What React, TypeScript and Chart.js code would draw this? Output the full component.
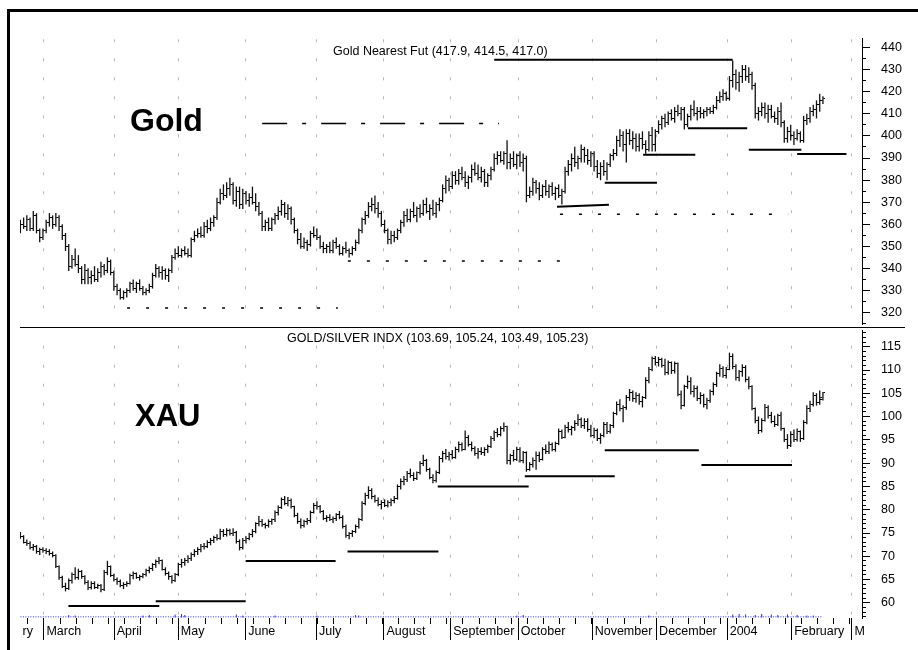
import React, { useEffect, useRef } from 'react';
import { Chart, registerables } from 'chart.js';
Chart.register(...registerables);

const FONT = '"Liberation Sans", Arial, Helvetica, sans-serif';

// ---------- Gold Nearest Futures (daily OHLC, trading-day index 0..249) ----------
const goldOpen = [
  359,360,359,362,358,364,357,354,357,361, 363,360,363,359,355,350,341,344,342,340,
  335,339,336,337,335,338,341,339,343,338, 332,330,327,329,330,333,331,333,331,329,
  330,332,337,340,338,339,337,339,345,347, 346,348,347,346,353,355,356,355,359,358,
  361,363,370,374,373,376,378,371,375,369, 374,371,372,370,368,365,359,361,358,362,
  364,366,369,365,367,362,357,353,350,352, 351,356,355,354,350,349,350,348,352,350,
  347,349,348,347,349,352,357,362,364,368, 369,367,365,360,357,353,355,354,357,361,
  364,362,366,364,367,365,369,366,367,365, 369,371,376,380,377,382,380,383,381,379,
  381,385,383,381,384,379,382,385,390,391, 389,392,388,390,387,391,388,390,373,375,
  379,376,373,377,375,377,374,376,373,375, 384,387,390,388,390,394,391,389,392,386,
  383,386,384,387,391,392,398,400,396,401, 398,399,395,399,396,394,400,396,402,405,
  408,406,410,408,411,410,412,405,409,412, 410,411,410,411,412,411,413,416,418,419,
  417,425,428,424,427,430,427,428,423,410, 411,413,410,412,409,408,411,406,399,402,
  400,399,401,398,407,408,411,412,414,416,
];
const goldHigh = [
  362,363,364,363,366,365,358,358,362,365, 364,365,364,360,356,351,346,349,346,341,
  342,340,339,341,340,343,342,345,344,339, 333,331,330,331,334,335,334,335,332,331,
  333,338,342,341,341,340,340,346,349,350, 349,350,349,354,357,358,359,361,362,363,
  364,372,376,378,379,381,379,377,377,376, 375,374,377,374,370,366,362,363,363,365,
  368,371,370,369,368,363,358,356,354,353, 357,359,358,355,352,351,352,353,354,351,
  350,352,349,350,353,358,363,366,370,372, 373,370,366,362,358,357,357,358,362,366,
  367,367,370,368,369,371,372,369,371,370, 372,378,382,381,384,384,385,386,384,382,
  387,388,387,386,385,383,386,392,393,393, 393,398,392,393,392,393,392,391,377,381,
  380,379,378,380,378,379,377,378,376,386, 389,392,395,391,396,395,394,393,393,389,
  388,389,388,392,394,400,403,402,403,403, 402,401,401,402,398,402,404,403,407,409,
  410,411,412,413,414,413,413,410,414,416, 413,413,412,413,413,414,418,420,421,420,
  427,434,430,429,432,432,431,429,424,413, 415,415,414,414,411,413,415,407,404,405,
  402,403,402,409,410,413,414,416,419,417.9,
];
const goldLow = [
  356,358,357,357,357,356,352,353,356,359, 358,359,357,353,348,339,340,341,338,333,
  333,333,333,334,334,336,337,338,337,330, 328,326,326,327,329,330,329,330,328,328,
  329,331,336,336,335,335,334,338,344,345, 345,346,345,345,352,354,354,354,356,357,
  359,362,369,371,372,373,369,368,367,367, 369,368,369,366,364,357,357,357,357,360,
  362,364,363,362,360,356,351,349,349,348, 350,354,353,349,347,347,347,347,349,346,
  346,347,345,346,348,351,356,360,363,366, 365,363,359,356,351,351,352,353,356,359,
  361,361,363,361,363,364,365,362,364,363, 366,370,374,375,376,378,378,380,377,376,
  379,382,380,379,377,377,380,384,387,388, 387,385,385,386,385,386,384,370,372,373,
  374,371,372,373,372,373,371,372,369,374, 382,384,386,385,388,388,387,386,384,381,
  380,382,380,386,389,391,395,393,388,396, 394,393,393,394,392,393,393,393,401,403,
  404,405,407,406,409,407,403,404,407,409, 407,408,408,409,410,410,412,415,416,416,
  416,422,421,420,424,425,424,421,408,407, 409,408,406,408,406,405,404,397,397,398,
  396,398,397,397,405,406,409,408,411,414.5,
];
const goldClose = [
  360,359,362,358,364,357,354,357,361,363, 360,363,359,355,350,341,344,342,340,335,
  339,336,337,335,338,341,339,343,338,332, 330,327,329,330,333,331,333,331,329,330,
  332,337,340,338,339,337,339,345,347,346, 348,347,346,353,355,356,355,359,358,361,
  363,370,374,373,376,378,371,375,369,374, 371,372,370,368,365,359,361,358,362,364,
  366,369,365,367,362,357,353,350,352,351, 356,355,354,350,349,350,348,352,350,347,
  349,348,347,349,352,357,362,364,368,369, 367,365,360,357,353,355,354,357,361,364,
  362,366,364,367,365,369,366,367,365,369, 371,376,380,377,382,380,383,381,379,381,
  385,383,381,384,379,382,385,390,391,389, 392,388,390,387,391,388,390,373,375,379,
  376,373,377,375,377,374,376,373,375,384, 387,390,388,390,394,391,389,392,386,383,
  386,384,387,391,392,398,400,396,401,398, 399,395,399,396,394,400,396,402,405,408,
  406,410,408,411,410,412,405,409,412,410, 411,410,411,412,411,413,416,418,419,417,
  425,428,424,427,430,427,428,423,410,411, 413,410,412,409,408,411,406,399,402,400,
  399,401,398,407,408,411,412,414,416,417,
];

// ---------- XAU Gold/Silver index (daily OHLC) ----------
const xauOpen = [
  74.8,74.2,73.0,72.8,71.8,72.2,71.0,71.4,71.2,71.0, 70.6,70.2,67.8,65.4,63.6,63.0,64.8,66.0,65.5,66.8,
  65.6,64.3,63.2,64.2,63.4,63.8,62.8,66.6,67.8,65.9, 65.0,64.6,63.8,64.0,64.2,65.8,66.2,65.5,65.7,66.0,
  67.0,67.4,68.2,68.8,69.0,67.2,66.2,65.6,64.8,66.0, 68.2,68.7,69.2,69.6,70.4,71.0,71.5,72.2,72.0,73.0,
  73.5,74.0,73.8,75.4,74.6,75.6,74.8,75.2,73.2,71.8, 73.4,73.9,74.6,75.3,77.0,77.5,76.8,76.6,77.4,77.8,
  79.4,80.4,82.2,81.4,82.0,80.6,78.8,77.4,76.6,77.4, 77.6,79.5,80.9,80.6,79.6,78.2,78.4,77.9,78.2,78.9,
  78.4,76.4,74.4,74.8,75.3,76.4,77.8,81.4,83.0,84.2, 82.8,82.0,81.2,81.6,80.9,81.5,82.0,82.5,85.0,86.0,
  86.6,87.8,87.4,86.8,87.9,90.0,90.6,88.6,87.0,86.2, 88.0,91.0,92.0,91.4,91.9,91.3,93.0,94.0,93.0,95.6,
  94.0,93.2,92.0,92.6,92.2,93.0,93.6,95.4,96.6,96.2, 97.5,97.8,90.6,91.6,90.8,93.0,90.6,92.2,88.6,89.8,
  90.6,91.6,90.8,93.0,92.4,94.0,93.0,94.2,96.8,95.6, 97.6,97.2,97.6,98.6,99.4,98.0,99.0,97.2,96.0,97.1,
  95.2,95.9,98.2,96.8,98.0,100.6,102.6,101.8,101.9,104.0, 105.2,103.8,104.6,103.2,104.0,107.8,110.2,112.4,111.6,112.3,
  111.0,109.4,111.6,109.8,111.4,104.8,102.4,106.4,107.6,105.4, 106.0,103.8,104.6,102.6,103.4,105.4,106.8,109.2,110.4,108.9,
  110.2,113.0,110.8,108.4,109.6,110.6,108.0,106.4,101.8,99.2, 97.0,99.2,102.0,100.2,99.0,98.4,100.2,97.4,95.0,93.8,
  96.2,95.0,96.8,95.2,98.8,101.8,102.6,104.6,103.0,103.69,
];
const xauHigh = [
  75.2,74.5,73.6,73.2,72.6,72.4,71.8,71.9,71.7,71.5, 71.0,70.4,68.0,65.8,64.3,65.2,66.5,67.6,67.3,67.0,
  65.9,64.8,64.6,64.6,64.1,64.0,67.0,69.0,68.0,66.2, 65.4,65.0,64.4,64.6,66.2,66.7,66.5,66.0,66.4,67.3,
  67.8,68.5,69.3,69.8,69.3,67.6,66.7,65.9,66.4,68.6, 69.4,69.6,70.2,70.8,71.5,71.9,72.6,72.8,73.4,73.9,
  74.4,74.7,75.9,75.8,76.0,75.9,76.0,75.4,73.6,73.9, 74.3,75.0,75.8,77.3,78.6,78.0,77.2,77.9,78.1,79.8,
  80.9,82.6,82.9,82.7,82.4,80.8,79.3,78.1,77.8,78.2, 79.8,81.4,81.8,81.0,79.9,78.8,79.0,78.5,79.2,79.7,
  78.8,76.8,75.2,75.6,76.8,78.2,81.8,83.6,85.0,84.6, 83.2,82.6,82.0,82.2,82.0,82.4,82.9,85.4,86.7,87.2,
  88.3,88.8,88.0,88.2,90.4,91.8,90.9,89.0,87.6,88.4, 91.5,92.6,93.0,92.4,92.8,93.5,94.6,94.4,97.0,96.0,
  94.6,93.6,93.2,93.4,93.4,94.0,95.8,97.0,97.5,97.9, 98.7,98.0,92.0,92.8,93.5,93.4,92.6,92.5,90.2,91.2,
  92.5,92.4,93.4,94.0,94.6,94.4,94.6,97.4,97.2,98.2, 98.8,98.0,99.2,100.5,99.8,99.6,99.6,98.2,97.6,97.4,
  96.4,98.8,98.8,98.4,101.0,103.2,103.7,102.4,104.6,105.9, 105.6,105.2,105.0,104.4,108.4,110.6,112.9,113.0,112.8,112.6,
  112.4,112.0,111.8,111.8,111.6,105.6,106.8,108.8,108.4,106.7, 106.6,105.2,104.9,104.0,105.8,107.3,109.6,111.2,110.8,110.6,
  113.7,113.5,111.2,110.0,111.2,111.0,108.6,106.7,101.9,100.0, 99.6,102.7,102.4,101.0,100.2,100.6,101.0,97.6,96.2,96.8,
  97.2,97.4,97.0,99.2,102.4,103.4,105.2,105.0,105.6,105.24,
];
const xauLow = [
  73.8,72.8,72.3,71.5,71.2,70.6,70.3,70.8,70.5,70.2, 69.8,67.5,65.0,63.2,62.5,62.8,64.2,65.0,65.0,65.2,
  64.0,62.8,62.9,63.0,63.0,62.3,62.6,66.0,65.6,64.6, 63.9,63.4,63.0,63.5,64.0,65.1,65.2,64.8,65.3,65.7,
  66.4,66.9,67.6,68.3,67.0,65.9,65.0,64.2,64.5,65.8, 67.6,68.0,68.6,69.0,69.9,70.3,70.9,71.5,71.8,72.4,
  72.9,73.4,73.6,74.2,74.3,74.5,74.4,72.8,71.3,71.5, 72.8,73.5,74.1,75.0,76.5,76.4,76.0,76.2,76.8,77.4,
  78.8,80.2,81.0,80.8,80.3,78.4,77.0,76.0,76.2,76.8, 77.2,79.2,80.1,79.3,77.8,77.4,77.6,77.2,77.6,78.0,
  76.0,74.0,73.7,74.2,75.0,76.0,77.6,81.0,82.4,82.3, 81.6,80.8,80.1,80.6,80.5,80.8,81.4,82.2,84.4,85.3,
  86.0,86.9,86.2,86.4,87.6,89.4,88.2,86.6,85.7,85.9, 87.7,90.2,90.8,90.6,90.9,91.0,92.4,92.6,92.8,93.6,
  92.6,91.6,91.0,91.8,91.6,92.2,93.3,94.8,95.6,95.8, 96.8,89.8,89.7,90.4,90.5,90.2,90.0,88.2,88.4,89.1,
  88.6,90.3,90.6,92.0,92.0,92.6,92.5,93.9,95.2,95.4, 96.6,96.0,97.0,98.0,97.6,97.4,96.8,95.6,95.4,94.8,
  94.2,95.6,96.3,96.4,97.6,100.3,101.2,98.8,101.5,103.4, 103.2,103.0,102.6,102.0,103.8,107.2,109.8,111.0,110.8,110.6,
  108.9,109.0,109.2,109.3,104.4,101.6,102.2,106.0,104.8,104.2, 103.4,102.7,102.0,101.6,103.0,104.6,106.4,108.6,108.4,108.2,
  110.0,110.2,107.8,107.6,108.6,107.4,105.9,101.4,98.6,96.3, 96.6,99.0,99.6,98.6,97.8,98.0,97.0,94.6,93.1,93.5,
  94.6,94.7,94.6,95.0,98.4,101.0,102.2,102.4,102.6,103.49,
];
const xauClose = [
  74.2,73.0,72.8,71.8,72.2,71.0,71.4,71.2,71.0,70.6, 70.2,67.8,65.4,63.6,63.0,64.8,66.0,65.5,66.8,65.6,
  64.3,63.2,64.2,63.4,63.8,62.8,66.6,67.8,65.9,65.0, 64.6,63.8,64.0,64.2,65.8,66.2,65.5,65.7,66.0,67.0,
  67.4,68.2,68.8,69.0,67.2,66.2,65.6,64.8,66.0,68.2, 68.7,69.2,69.6,70.4,71.0,71.5,72.2,72.0,73.0,73.5,
  74.0,73.8,75.4,74.6,75.6,74.8,75.2,73.2,71.8,73.4, 73.9,74.6,75.3,77.0,77.5,76.8,76.6,77.4,77.8,79.4,
  80.4,82.2,81.4,82.0,80.6,78.8,77.4,76.6,77.4,77.6, 79.5,80.9,80.6,79.6,78.2,78.4,77.9,78.2,78.9,78.4,
  76.4,74.4,74.8,75.3,76.4,77.8,81.4,83.0,84.2,82.8, 82.0,81.2,81.6,80.9,81.5,82.0,82.5,85.0,86.0,86.6,
  87.8,87.4,86.8,87.9,90.0,90.6,88.6,87.0,86.2,88.0, 91.0,92.0,91.4,91.9,91.3,93.0,94.0,93.0,95.6,94.0,
  93.2,92.0,92.6,92.2,93.0,93.6,95.4,96.6,96.2,97.5, 97.8,90.6,91.6,90.8,93.0,90.6,92.2,88.6,89.8,90.6,
  91.6,90.8,93.0,92.4,94.0,93.0,94.2,96.8,95.6,97.6, 97.2,97.6,98.6,99.4,98.0,99.0,97.2,96.0,97.1,95.2,
  95.9,98.2,96.8,98.0,100.6,102.6,101.8,101.9,104.0,105.2, 103.8,104.6,103.2,104.0,107.8,110.2,112.4,111.6,112.3,111.0,
  109.4,111.6,109.8,111.4,104.8,102.4,106.4,107.6,105.4,106.0, 103.8,104.6,102.6,103.4,105.4,106.8,109.2,110.4,108.9,110.2,
  113.0,110.8,108.4,109.6,110.6,108.0,106.4,101.8,99.2,97.0, 99.2,102.0,100.2,99.0,98.4,100.2,97.4,95.0,93.8,96.2,
  95.0,96.8,95.2,98.8,101.8,102.6,104.6,103.0,104.2,105.23,
];

// small volume-like marks along the bottom of the XAU panel
const volumeLevel = 57.0;
const volumeSpikeIdx = [15,17,38,40,48,50,51,67,69,79,92,104,105,154,156,195,221,223,225,228,230,233,235,238,241,244,246];
const volumeSpikeSize = [0.4,0.3,0.3,0.4,0.5,0.6,0.4,0.5,0.3,0.3,0.3,0.4,0.3,0.3,0.4,0.3,0.5,0.6,0.5,0.4,0.6,0.5,0.4,0.5,0.4,0.3,0.3];

// trend / support lines: [x1, y1, x2, y2] in (trading-day index, price)
const goldSolidLines = [
  [147, 434.5, 221, 434.5],
  [166.5, 368.0, 182.6, 368.8],
  [181.3, 378.8, 197.5, 378.8],
  [193.2, 391.5, 209.4, 391.5],
  [207.1, 403.5, 225.5, 403.5],
  [226, 393.7, 242.3, 393.7],
  [241, 391.8, 256.3, 391.8],
];
const goldDashedLines = [
  [33.1, 322.1, 98.5, 322.1],
  [101.6, 343.4, 167.4, 343.4],
  [167.4, 364.6, 238.2, 364.6],
];
const goldDashDotLine = [75, 405.6, 148.5, 405.6];
const xauSolidLines = [
  [14.9, 59.35, 43.1, 59.35],
  [42, 60.35, 69.9, 60.35],
  [69.9, 69.0, 97.8, 69.0],
  [101.5, 71.05, 129.7, 71.05],
  [129.5, 85.0, 157.7, 85.0],
  [156.5, 87.2, 184.4, 87.2],
  [181.3, 92.8, 210.5, 92.8],
  [211.3, 89.6, 239.4, 89.6],
];

// axis ticks / labels
const monthTickIdx = [-0.12, 7.3, 29.1, 49, 69.9, 91.9, 112.8, 133.5, 154.5, 177.4, 197.4, 219.3, 239.3, 258];
const monthLabels = ['ry', 'March', 'April', 'May', 'June', 'July', 'August', 'September', 'October', 'November', 'December', '2004', 'February', 'M'];
const goldMajorTicks = [320, 330, 340, 350, 360, 370, 380, 390, 400, 410, 420, 430, 440];
const xauMajorTicks = [60, 65, 70, 75, 80, 85, 90, 95, 100, 105, 110, 115];

const X_MIN = -0.12;
const X_MAX = 261.12;
const GOLD_MIN = 314.9, GOLD_MAX = 444.3;
const XAU_MIN = 56.75, XAU_MAX = 118.6;
const GRID = '#b8b8b8';

function range(a: number, b: number, s: number) {
  const out: number[] = [];
  for (let v = a; v <= b + 1e-9; v += s) out.push(Math.round(v * 100) / 100);
  return out;
}
const goldMinorTicks = range(315, 440, 5);
const xauMinorTicks = range(57, 118, 1);
const weekTicks = range(2.3, 261, 5).concat(monthTickIdx.slice(1));

function makeTickImg(open: boolean) {
  const c = document.createElement('canvas');
  c.width = 5; c.height = 1;
  const ctx = c.getContext('2d')!;
  ctx.fillStyle = '#000';
  ctx.fillRect(open ? 0 : 3, 0, 2, 1);
  return c;
}

function seg(a: number[]) {
  return [{ x: a[0], y: a[1] }, { x: a[2], y: a[3] }];
}

function lineDs(a: number[], width: number, dash: number[]) {
  return {
    type: 'line', data: seg(a), borderColor: '#000', borderWidth: width, borderDash: dash,
    pointRadius: 0, fill: false, tension: 0, xAxisID: 'x', yAxisID: 'y', order: 0,
  };
}

function ohlcDs(o: number[], h: number[], l: number[], c: number[], openImg: any, closeImg: any) {
  return [
    {
      type: 'bar', data: h.map((v, i) => ({ x: i, y: [l[i], v] })), backgroundColor: '#111',
      borderWidth: 0, barThickness: 1, inflateAmount: 0.15, xAxisID: 'x', yAxisID: 'y', order: 3,
    },
    {
      type: 'scatter', data: o.map((v, i) => ({ x: i, y: v })), pointStyle: openImg, pointRadius: 2,
      pointHoverRadius: 2, xAxisID: 'x', yAxisID: 'y', order: 2,
    },
    {
      type: 'scatter', data: c.map((v, i) => ({ x: i, y: v })), pointStyle: closeImg, pointRadius: 2,
      pointHoverRadius: 2, xAxisID: 'x', yAxisID: 'y', order: 2,
    },
  ];
}

function yScales(min: number, max: number, minor: number[], major: number[]) {
  return {
    y: {
      type: 'linear', position: 'right', weight: 0, min, max, bounds: 'data',
      grid: { drawOnChartArea: false, drawTicks: true, tickLength: 4, tickColor: '#000', tickWidth: 1 },
      border: { display: true, color: '#000', width: 1 },
      ticks: { display: false },
      afterBuildTicks: (s: any) => { s.ticks = minor.map((v) => ({ value: v })); },
      afterFit: (s: any) => { s.width = 4; s.paddingTop = 0; s.paddingBottom = 0; },
    },
    yMaj: {
      type: 'linear', position: 'right', weight: 1, min, max, bounds: 'data',
      grid: { drawOnChartArea: false, drawTicks: true, tickLength: 4, tickColor: '#000', tickWidth: 1 },
      border: { display: false },
      ticks: {
        display: true, padding: 11, color: '#000', autoSkip: false,
        font: { family: FONT, size: 12.5 }, callback: (v: any) => String(v),
      },
      afterBuildTicks: (s: any) => { s.ticks = major.map((v) => ({ value: v })); },
      afterFit: (s: any) => { s.width = 52; s.paddingTop = 0; s.paddingBottom = 0; },
    },
  };
}

const common = {
  responsive: false,
  maintainAspectRatio: false,
  animation: false,
  devicePixelRatio: 1,
  events: [],
  plugins: { legend: { display: false }, tooltip: { enabled: false }, title: { display: false } },
};

export default function App() {
  const topRef = useRef<HTMLCanvasElement>(null);
  const botRef = useRef<HTMLCanvasElement>(null);

  useEffect(() => {
    const openImg = makeTickImg(true);
    const closeImg = makeTickImg(false);

    const top = new Chart(topRef.current as HTMLCanvasElement, {
      type: 'bar',
      data: {
        datasets: [
          ...ohlcDs(goldOpen, goldHigh, goldLow, goldClose, openImg, closeImg),
          ...goldSolidLines.map((a) => lineDs(a, 2, [])),
          ...goldDashedLines.map((a) => lineDs(a, 1.5, [3, 16])),
          lineDs(goldDashDotLine, 1.6, [25, 15, 4, 15]),
        ] as any,
      },
      options: {
        ...common,
        layout: { padding: { left: 20, top: 38, right: 0, bottom: 0 } },
        scales: {
          x: {
            type: 'linear', min: X_MIN, max: X_MAX, offset: false, bounds: 'data', position: 'bottom',
            grid: { color: GRID, lineWidth: 1, drawTicks: false, offset: false },
            border: { display: false, dash: [3, 16], dashOffset: 17.7 },
            ticks: { display: false },
            afterBuildTicks: (s: any) => { s.ticks = monthTickIdx.slice(1).map((v) => ({ value: v })); },
            afterFit: (s: any) => { s.height = 0; s.paddingLeft = 0; s.paddingRight = 0; },
          },
          ...yScales(GOLD_MIN, GOLD_MAX, goldMinorTicks, goldMajorTicks),
        } as any,
      } as any,
    });

    const bot = new Chart(botRef.current as HTMLCanvasElement, {
      type: 'bar',
      data: {
        datasets: [
          ...ohlcDs(xauOpen, xauHigh, xauLow, xauClose, openImg, closeImg),
          ...xauSolidLines.map((a) => lineDs(a, 2, [])),
          {
            type: 'line', data: [{ x: 0, y: volumeLevel }, { x: 249, y: volumeLevel }],
            borderColor: '#2b2bff', borderWidth: 1, borderDash: [1, 1.5], pointRadius: 0,
            fill: false, xAxisID: 'x', yAxisID: 'y', order: 1,
          },
          {
            type: 'bar', data: volumeSpikeIdx.map((v, i) => ({ x: v, y: [volumeLevel - 0.15, volumeLevel + volumeSpikeSize[i]] })),
            backgroundColor: '#2b2bff', borderWidth: 0, grouped: false, maxBarThickness: 1,
            xAxisID: 'x', yAxisID: 'y', order: 1,
          },
        ] as any,
      },
      options: {
        ...common,
        layout: { padding: { left: 20, top: 0, right: 0, bottom: 0 } },
        scales: {
          xw: {
            type: 'linear', min: X_MIN, max: X_MAX, offset: false, bounds: 'data', position: 'bottom', weight: 0,
            grid: { drawOnChartArea: false, drawTicks: true, tickLength: 6, tickColor: '#000', tickWidth: 1, offset: false },
            border: { display: false },
            ticks: { display: false },
            afterBuildTicks: (s: any) => { s.ticks = weekTicks.map((v) => ({ value: v })); },
            afterFit: (s: any) => { s.height = 6; s.paddingLeft = 0; s.paddingRight = 0; },
          },
          x: {
            type: 'linear', min: X_MIN, max: X_MAX, offset: false, bounds: 'data', position: 'bottom', weight: 1,
            grid: {
              color: (c: any) => (c.index === 0 ? 'rgba(0,0,0,0)' : GRID),
              lineWidth: 1, drawTicks: true, tickLength: 16,
              tickColor: (c: any) => (c.index === 0 ? 'rgba(0,0,0,0)' : '#000'),
              tickWidth: 1, offset: false,
            },
            border: { display: false, dash: [3, 16], dashOffset: 3.3 },
            ticks: {
              autoSkip: false, maxRotation: 0, minRotation: 0, align: 'start', labelOffset: 2.5,
              padding: -15.5, color: '#000', font: { family: FONT, size: 12.5 },
              callback: (_v: any, i: number) => monthLabels[i],
            },
            afterBuildTicks: (s: any) => { s.ticks = monthTickIdx.map((v) => ({ value: v })); },
            afterFit: (s: any) => { s.height = 26; s.paddingLeft = 0; s.paddingRight = 0; },
          },
          ...yScales(XAU_MIN, XAU_MAX, xauMinorTicks, xauMajorTicks),
        } as any,
      } as any,
    });

    return () => { top.destroy(); bot.destroy(); };
  }, []);

  const text = (s: string, left: number, top: number, size: number, bold = false) => (
    <div style={{
      position: 'absolute', left, top, fontFamily: FONT, fontSize: size, lineHeight: `${size}px`,
      fontWeight: bold ? 700 : 400, color: '#000', whiteSpace: 'nowrap',
    }}>{s}</div>
  );

  return (
    <div style={{ position: 'fixed', left: 0, top: 0, width: 918, height: 650, overflow: 'hidden', background: '#fff' }}>
      <div style={{ position: 'absolute', left: 7, top: 9, width: 930, height: 660, borderTop: '3px solid #000', borderLeft: '3px solid #000' }} />
      <canvas ref={topRef} width={918} height={327} style={{ position: 'absolute', left: 0, top: 0, width: 918, height: 327 }} />
      <canvas ref={botRef} width={918} height={323} style={{ position: 'absolute', left: 0, top: 327, width: 918, height: 323 }} />
      <div style={{ position: 'absolute', left: 20, top: 327, width: 885, height: 1, background: '#000' }} />
      {text('Gold Nearest Fut (417.9, 414.5, 417.0)', 333, 44.6, 12.5)}
      {text('GOLD/SILVER INDX (103.69, 105.24, 103.49, 105.23)', 287, 332.2, 12.5)}
      {text('Gold', 130, 103.9, 32, true)}
      {text('XAU', 135, 399.8, 31, true)}
    </div>
  );
}
